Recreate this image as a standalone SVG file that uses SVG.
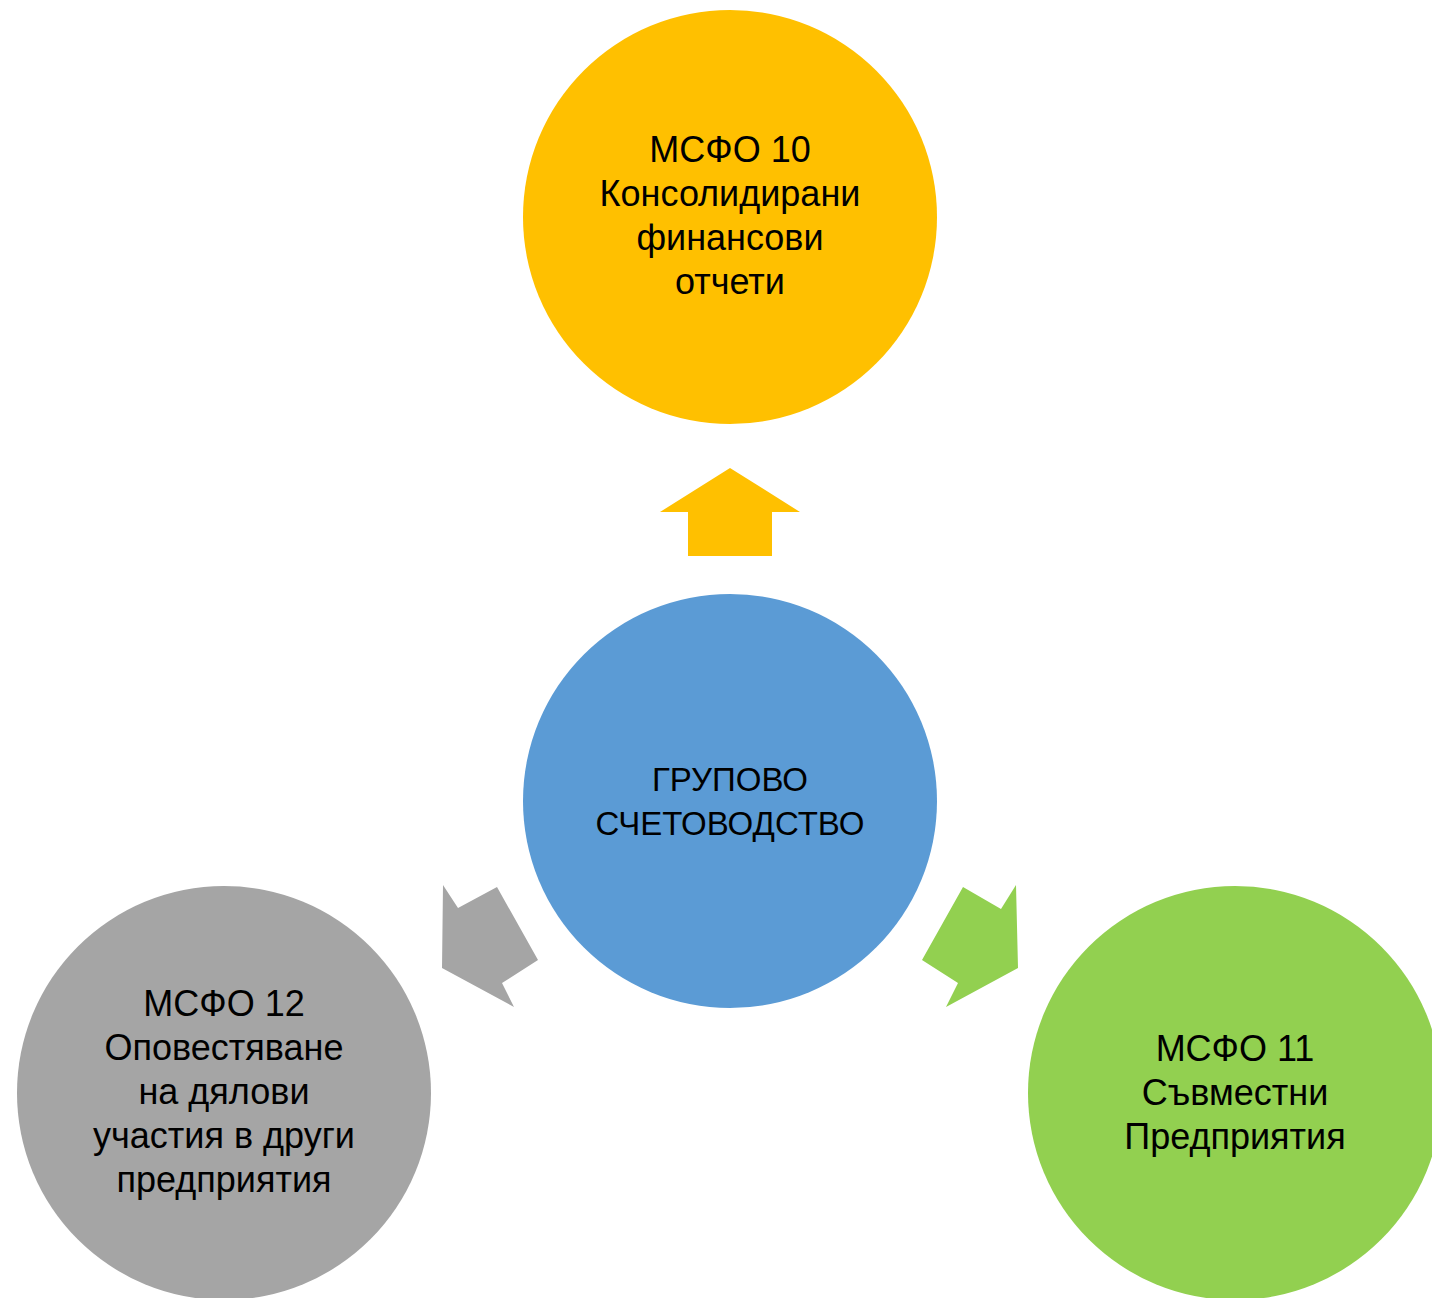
<svg xmlns="http://www.w3.org/2000/svg" width="1432" height="1298" viewBox="0 0 1432 1298">
<style>
text{font-family:"Liberation Sans",Arial,sans-serif;font-size:36px;fill:#000;text-anchor:middle}
#node-center text{font-size:33px}
</style>
<rect width="1432" height="1298" fill="#fff"/>
<g id="connectors">
<polygon fill="#FFC000" points="730,468 800,512 772,512 772,556 688,556 688,512 660,512"/>
<polygon fill="#A5A5A5" points="443,885 458,908 497,887 538,960 502,983 514,1007 442,968"/>
<polygon fill="#92D050" points="1016,885 1001,909 963,887 922,960 958,983 946,1007 1018,968"/>
</g>
<g id="node-top">
<circle cx="730" cy="217" r="207" fill="#FFC000"/>
<text x="730" y="162">МСФО 10</text>
<text x="730" y="206">Консолидирани</text>
<text x="730" y="250">финансови</text>
<text x="730" y="294">отчети</text>
</g>
<g id="node-center">
<circle cx="730" cy="801" r="207" fill="#5B9BD5"/>
<text x="730" y="791">ГРУПОВО</text>
<text x="730" y="835">СЧЕТОВОДСТВО</text>
</g>
<g id="node-left">
<circle cx="224" cy="1093" r="207" fill="#A5A5A5"/>
<text x="224" y="1016">МСФО 12</text>
<text x="224" y="1060">Оповестяване</text>
<text x="224" y="1104">на дялови</text>
<text x="224" y="1148">участия в други</text>
<text x="224" y="1192">предприятия</text>
</g>
<g id="node-right">
<circle cx="1235" cy="1093" r="207" fill="#92D050"/>
<text x="1235" y="1061">МСФО 11</text>
<text x="1235" y="1105">Съвместни</text>
<text x="1235" y="1149">Предприятия</text>
</g>
</svg>
